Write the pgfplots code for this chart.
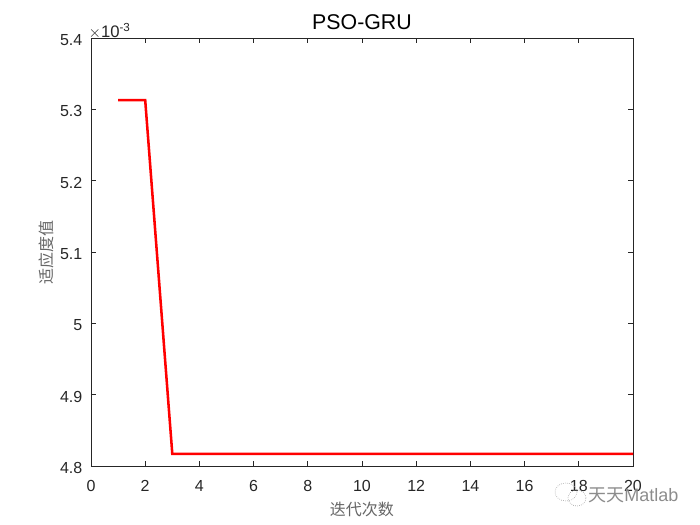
\documentclass[border=0pt]{standalone}
\usepackage{fontspec}
\setmainfont{Liberation Sans}
\newfontfamily\cjk{Noto Sans CJK SC}
\usepackage{pgfplots}
\pgfplotsset{compat=1.18}

\definecolor{axisgray}{RGB}{38,38,38}

\begin{document}
\begin{tikzpicture}[x=0.75pt,y=0.75pt]
  % fix the page to 700x525 px, axis corner at the origin
  \useasboundingbox (-91,-59) rectangle (609,466);
  \begin{axis}[
    at={(0,0)}, anchor=south west,
    scale only axis,
    width=406.5pt, height=321pt,
    xmin=0, xmax=20,
    ymin=4.8e-3, ymax=5.4e-3,
    xtick={0,2,...,20},
    ytick={4.8e-3,4.9e-3,5e-3,5.1e-3,5.2e-3,5.3e-3,5.4e-3},
    scaled y ticks=manual:{$\times$10\textsuperscript{-3}}{\pgfmathparse{#1*1000}},
    tick align=inside,
    tick pos=both,
    major tick length=4pt,
    axis line style={axisgray, line width=0.6pt},
    tick style={axisgray, line width=0.6pt},
    /pgf/number format/assume math mode=true,
    /pgf/number format/fixed,
    /pgf/number format/precision=1,
    tick label style={font=\fontsize{12}{14}\selectfont, text=axisgray},
    yticklabel style={xshift=-3pt, yshift=-1.5pt},
    xticklabel style={yshift=-7.5pt},
    every y tick scale label/.style={at={(axis description cs:0,1)}, anchor=south west, inner sep=0pt, xshift=1pt, yshift=1pt, font=\fontsize{12.5}{14}\selectfont, text=axisgray},
    title={PSO-GRU},
    title style={font=\fontsize{16}{18}\selectfont, yshift=-3pt},
    xlabel={\cjk 迭代次数},
    ylabel={\cjk 适应度值},
    xlabel style={font=\fontsize{12}{14}\selectfont, text=black!60, yshift=-0.5pt},
    ylabel style={font=\fontsize{12}{14}\selectfont, text=black!60, yshift=-2pt},
    clip=false,
  ]
    \addplot[red, line width=1.9pt, line join=miter] coordinates {
      (1,5.313e-3) (2,5.313e-3) (3,4.817e-3) (4,4.817e-3) (5,4.817e-3)
      (6,4.817e-3) (7,4.817e-3) (8,4.817e-3) (9,4.817e-3) (10,4.817e-3)
      (11,4.817e-3) (12,4.817e-3) (13,4.817e-3) (14,4.817e-3) (15,4.817e-3)
      (16,4.817e-3) (17,4.817e-3) (18,4.817e-3) (19,4.817e-3) (20,4.817e-3)
    };
  \end{axis}
  % watermark
  \draw[black!35, line width=0.5pt, densely dotted] (475,-26) ellipse (11 and 9);
  \draw[black!35, line width=0.5pt, densely dotted] (486,-32) ellipse (9 and 8);
  \node[anchor=west, inner sep=0pt, text=black!45, font=\fontsize{13.5}{16}\selectfont] at (497,-29) {{\cjk 天天}Matlab};
\end{tikzpicture}
\end{document}
